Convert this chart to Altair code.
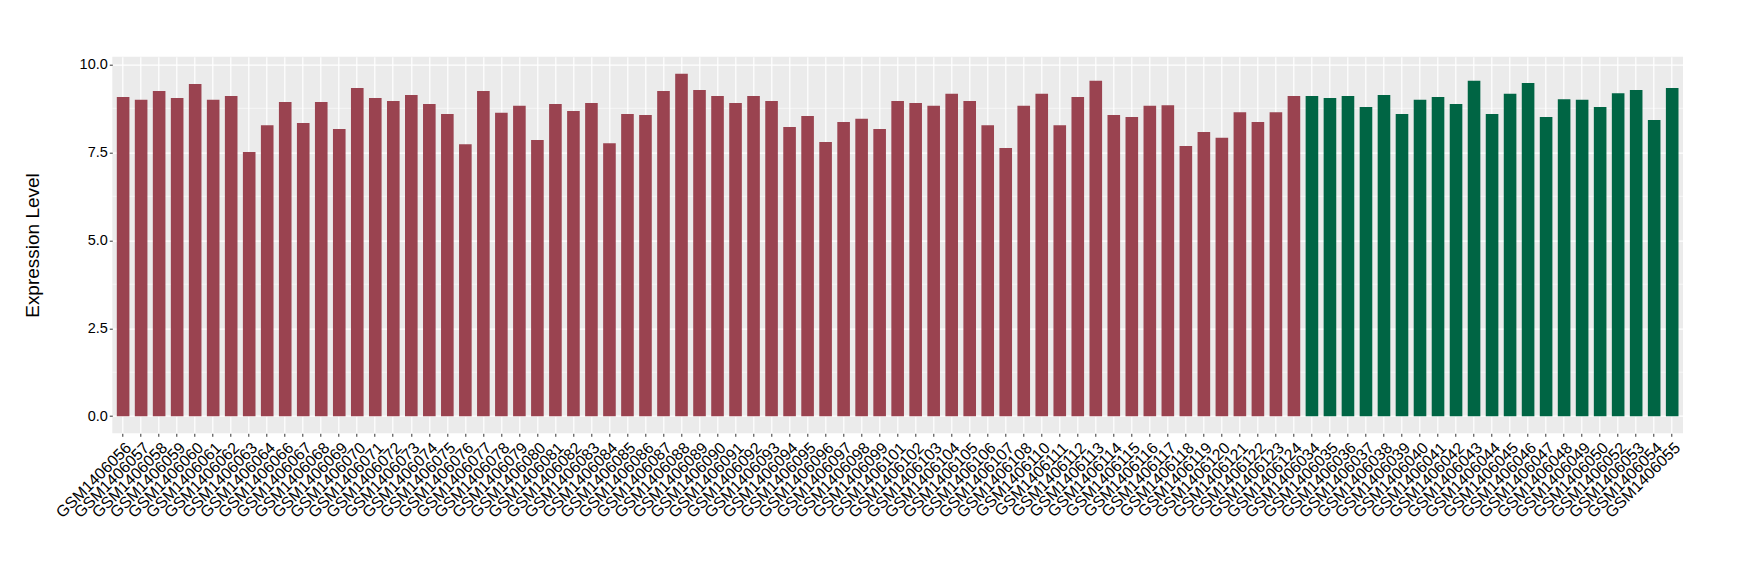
import altair as alt
import pandas as pd

# ---- data ----
samples_a = [
    "GSM1406056", "GSM1406057", "GSM1406058", "GSM1406059", "GSM1406060", "GSM1406061",
    "GSM1406062", "GSM1406063", "GSM1406064", "GSM1406066", "GSM1406067", "GSM1406068",
    "GSM1406069", "GSM1406070", "GSM1406071", "GSM1406072", "GSM1406073", "GSM1406074",
    "GSM1406075", "GSM1406076", "GSM1406077", "GSM1406078", "GSM1406079", "GSM1406080",
    "GSM1406081", "GSM1406082", "GSM1406083", "GSM1406084", "GSM1406085", "GSM1406086",
    "GSM1406087", "GSM1406088", "GSM1406089", "GSM1406090", "GSM1406091", "GSM1406092",
    "GSM1406093", "GSM1406094", "GSM1406095", "GSM1406096", "GSM1406097", "GSM1406098",
    "GSM1406099", "GSM1406101", "GSM1406102", "GSM1406103", "GSM1406104", "GSM1406105",
    "GSM1406106", "GSM1406107", "GSM1406108", "GSM1406110", "GSM1406111", "GSM1406112",
    "GSM1406113", "GSM1406114", "GSM1406115", "GSM1406116", "GSM1406117", "GSM1406118",
    "GSM1406119", "GSM1406120", "GSM1406121", "GSM1406122", "GSM1406123", "GSM1406124",
]
values_a = [
    9.07, 8.99, 9.24, 9.04, 9.44, 8.99,
    9.10, 7.51, 8.27, 8.93, 8.33, 8.93,
    8.16, 9.33, 9.04, 8.96, 9.13, 8.87,
    8.59, 7.73, 9.24, 8.62, 8.82, 7.85,
    8.87, 8.67, 8.90, 7.76, 8.59, 8.56,
    9.24, 9.73, 9.27, 9.10, 8.90, 9.10,
    8.96, 8.22, 8.53, 7.79, 8.36, 8.45,
    8.16, 8.96, 8.90, 8.82, 9.16, 8.96,
    8.27, 7.62, 8.82, 9.16, 8.27, 9.07,
    9.53, 8.56, 8.50, 8.82, 8.84, 7.68,
    8.08, 7.91, 8.64, 8.36, 8.64, 9.10,
]
samples_b = [
    "GSM1406034", "GSM1406035", "GSM1406036", "GSM1406037", "GSM1406038", "GSM1406039",
    "GSM1406040", "GSM1406041", "GSM1406042", "GSM1406043", "GSM1406044", "GSM1406045",
    "GSM1406046", "GSM1406047", "GSM1406048", "GSM1406049", "GSM1406050", "GSM1406052",
    "GSM1406053", "GSM1406054", "GSM1406055",
]
values_b = [
    9.10, 9.04, 9.10, 8.79, 9.13, 8.59,
    8.99, 9.07, 8.87, 9.53, 8.59, 9.16,
    9.47, 8.50, 9.01, 8.99, 8.79, 9.18,
    9.27, 8.42, 9.33,
]
group_names = ["group_a", "group_b"]
group_colors = ["#9A4350", "#006544"]
y_ticks = [0, 2.5, 5, 7.5, 10]
y_minor = [1.25, 3.75, 6.25, 8.75]

df = pd.DataFrame({
    "sample": samples_a + samples_b,
    "value": values_a + values_b,
    "group": [group_names[0]] * len(samples_a) + [group_names[1]] * len(samples_b),
})
minor_df = pd.DataFrame({"v": y_minor})

ymax = max(values_a + values_b)
ypad = 0.05 * ymax
ydom = [-ypad, ymax + ypad]
yscale = alt.Scale(domain=ydom, nice=False, zero=False)

W = 1570.7
H = 376.6
FONT = "Liberation Sans"

minor = alt.Chart(minor_df).mark_rule(color="white", strokeWidth=0.6).encode(
    y=alt.Y("v:Q", scale=yscale, axis=None)
)

bars = alt.Chart(df).mark_bar().encode(
    x=alt.X(
        "sample:N",
        sort=None,
        scale=alt.Scale(paddingInner=0.3, paddingOuter=0.25),
        axis=alt.Axis(
            title=None, labelAngle=-45, labelAlign="right", labelBaseline="top",
            labelFontSize=16, labelFont=FONT, labelColor="#000000", labelOverlap=False,
            labelPadding=3, tickColor="#333333", tickSize=3, tickWidth=1,
            domain=False, grid=True, gridColor="white", gridWidth=1.2,
        ),
    ),
    y=alt.Y(
        "value:Q",
        scale=yscale,
        axis=alt.Axis(
            values=y_ticks, format=".1f", title="Expression Level",
            titleFont=FONT, titleFontSize=19, titleFontWeight="normal", titleColor="black",
            titleX=-80, titleY=H / 2, titleBaseline="middle", titleAngle=270,
            labelFontSize=14.5, labelFont=FONT, labelColor="#000000", labelPadding=2,
            tickColor="#333333", tickSize=3, tickWidth=1, domain=False,
            grid=True, gridColor="white", gridWidth=1.2,
        ),
    ),
    y2=alt.Y2Datum(0),
    color=alt.Color("group:N", scale=alt.Scale(domain=group_names, range=group_colors), legend=None),
)

chart = alt.layer(minor, bars).resolve_axis(y="independent").properties(
    width=W,
    height=H,
    autosize=alt.AutoSizeParams(type="none"),
    padding={"left": 104.3, "top": 48.7, "right": 40, "bottom": 120},
    background="white",
).configure_view(fill="#EBEBEB", strokeWidth=0)

chart.save("out.html", embed_options={"renderer": "svg", "actions": False})
